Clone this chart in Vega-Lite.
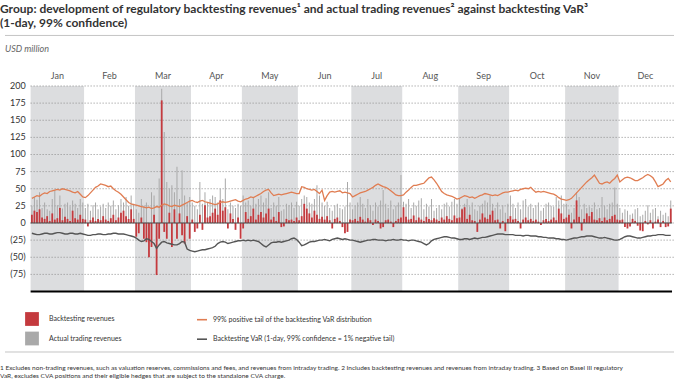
{
  "$schema": "https://vega.github.io/schema/vega-lite/v6.json",
  "padding": {"left": 0, "right": 0, "top": 2, "bottom": 0},
  "background": "white",
  "config": {"font": "Lato", "view": {"stroke": null}},
  "title": {
    "text": ["Group: development of regulatory backtesting revenues¹ and actual trading revenues² against backtesting VaR³", "(1-day, 99% confidence)"],
    "anchor": "start", "fontSize": 12, "fontWeight": "bold", "color": "#333333", "lineHeight": 14, "offset": 5
  },
  "datasets": {
    "one": [{}],
    "grid": [
      {"g": 200, "lab": "200"}, {"g": 175, "lab": "175"}, {"g": 150, "lab": "150"}, {"g": 125, "lab": "125"},
      {"g": 100, "lab": "100"}, {"g": 75, "lab": "75"}, {"g": 50, "lab": "50"}, {"g": 25, "lab": "25"},
      {"g": 0, "lab": "0"}, {"g": -25, "lab": "(25)"}, {"g": -50, "lab": "(50)"}, {"g": -75, "lab": "(75)"}
    ],
    "months": [
      {"m": "Jan", "mid": 10}, {"m": "Feb", "mid": 30.5}, {"m": "Mar", "mid": 51.5}, {"m": "Apr", "mid": 72.5},
      {"m": "May", "mid": 93.5}, {"m": "Jun", "mid": 115}, {"m": "Jul", "mid": 135.5}, {"m": "Aug", "mid": 156.5},
      {"m": "Sep", "mid": 177.5}, {"m": "Oct", "mid": 198.5}, {"m": "Nov", "mid": 220}, {"m": "Dec", "mid": 241}
    ],
    "bands": [
      {"m": "Jan", "s": -0.5, "e": 20.5},
      {"m": "Mar", "s": 40.5, "e": 62.5},
      {"m": "May", "s": 82.5, "e": 104.5},
      {"m": "Jul", "s": 125.5, "e": 145.5},
      {"m": "Sep", "s": 167.5, "e": 187.5},
      {"m": "Nov", "s": 209.5, "e": 230.5}
    ],
    "d": [
      {"t":0,"b":12,"a":25,"p":36,"v":-15},{"t":1,"b":18,"a":38,"p":38,"v":-16},{"t":2,"b":16,"a":34,"p":40,"v":-17},{"t":3,"b":20,"a":45,"p":39,"v":-17},{"t":4,"b":8,"a":22,"p":42,"v":-16},{"t":5,"b":6,"a":30,"p":44,"v":-15},{"t":6,"b":10,"a":20,"p":43,"v":-15},{"t":7,"b":3,"a":18,"p":46,"v":-16},{"t":8,"b":14,"a":35,"p":47,"v":-16},{"t":9,"b":5,"a":48,"p":48,"v":-15},{"t":10,"b":7,"a":26,"p":49,"v":-14},{"t":11,"b":22,"a":40,"p":48,"v":-14},{"t":12,"b":4,"a":21,"p":50,"v":-15},{"t":13,"b":9,"a":28,"p":49,"v":-16},{"t":14,"b":6,"a":30,"p":48,"v":-16},{"t":15,"b":3,"a":24,"p":47,"v":-15},{"t":16,"b":18,"a":33,"p":45,"v":-15},{"t":17,"b":7,"a":28,"p":44,"v":-16},{"t":18,"b":5,"a":22,"p":46,"v":-16},{"t":19,"b":12,"a":35,"p":42,"v":-15},{"t":20,"b":6,"a":30,"p":38,"v":-16},
      {"t":21,"b":5,"a":22,"p":37,"v":-17},{"t":22,"b":-5,"a":28,"p":40,"v":-18},{"t":23,"b":4,"a":18,"p":44,"v":-18},{"t":24,"b":8,"a":26,"p":48,"v":-17},{"t":25,"b":3,"a":30,"p":52,"v":-17},{"t":26,"b":6,"a":20,"p":54,"v":-16},{"t":27,"b":4,"a":24,"p":57,"v":-16},{"t":28,"b":10,"a":28,"p":56,"v":-17},{"t":29,"b":5,"a":22,"p":55,"v":-17},{"t":30,"b":3,"a":30,"p":53,"v":-16},{"t":31,"b":7,"a":25,"p":54,"v":-16},{"t":32,"b":12,"a":33,"p":50,"v":-15},{"t":33,"b":4,"a":20,"p":47,"v":-15},{"t":34,"b":8,"a":26,"p":45,"v":-16},{"t":35,"b":15,"a":35,"p":42,"v":-16},{"t":36,"b":18,"a":30,"p":38,"v":-16},{"t":37,"b":10,"a":38,"p":34,"v":-17},{"t":38,"b":6,"a":25,"p":30,"v":-18},{"t":39,"b":20,"a":40,"p":28,"v":-19},{"t":40,"b":6,"a":28,"p":27,"v":-20},
      {"t":41,"b":-20,"a":20,"p":26,"v":-22},{"t":42,"b":-15,"a":15,"p":25,"v":-25},{"t":43,"b":8,"a":35,"p":24,"v":-27},{"t":44,"b":-23,"a":25,"p":23,"v":-26},{"t":45,"b":-28,"a":30,"p":22,"v":-23},{"t":46,"b":-50,"a":-30,"p":23,"v":-24},{"t":47,"b":-35,"a":45,"p":21,"v":-27},{"t":48,"b":12,"a":40,"p":22,"v":-30},{"t":49,"b":-76,"a":-55,"p":24,"v":-37},{"t":50,"b":-23,"a":65,"p":23,"v":-32},{"t":51,"b":179,"a":196,"p":26,"v":-28},{"t":52,"b":-13,"a":133,"p":28,"v":-27},{"t":53,"b":-23,"a":60,"p":27,"v":-29},{"t":54,"b":15,"a":50,"p":25,"v":-30},{"t":55,"b":-35,"a":55,"p":24,"v":-31},{"t":56,"b":20,"a":45,"p":26,"v":-32},{"t":57,"b":-23,"a":82,"p":25,"v":-32},{"t":58,"b":14,"a":35,"p":24,"v":-30},{"t":59,"b":-18,"a":77,"p":26,"v":-27},{"t":60,"b":-30,"a":40,"p":28,"v":-28},{"t":61,"b":10,"a":30,"p":30,"v":-38},{"t":62,"b":-23,"a":38,"p":32,"v":-40},
      {"t":63,"b":5,"a":30,"p":33,"v":-41},{"t":64,"b":-13,"a":25,"p":31,"v":-42},{"t":65,"b":-8,"a":20,"p":30,"v":-41},{"t":66,"b":12,"a":60,"p":32,"v":-40},{"t":67,"b":-10,"a":28,"p":33,"v":-39},{"t":68,"b":26,"a":45,"p":31,"v":-39},{"t":69,"b":8,"a":30,"p":30,"v":-38},{"t":70,"b":10,"a":35,"p":29,"v":-37},{"t":71,"b":15,"a":40,"p":28,"v":-36},{"t":72,"b":21,"a":38,"p":27,"v":-34},{"t":73,"b":12,"a":30,"p":28,"v":-30},{"t":74,"b":33,"a":50,"p":30,"v":-28},{"t":75,"b":18,"a":35,"p":31,"v":-27},{"t":76,"b":23,"a":65,"p":30,"v":-28},{"t":77,"b":-8,"a":20,"p":31,"v":-30},{"t":78,"b":14,"a":30,"p":32,"v":-29},{"t":79,"b":6,"a":25,"p":33,"v":-28},{"t":80,"b":-10,"a":22,"p":34,"v":-27},{"t":81,"b":8,"a":28,"p":32,"v":-26},{"t":82,"b":-23,"a":25,"p":31,"v":-26},
      {"t":83,"b":-8,"a":40,"p":33,"v":-25},{"t":84,"b":16,"a":30,"p":35,"v":-26},{"t":85,"b":6,"a":33,"p":36,"v":-25},{"t":86,"b":10,"a":25,"p":38,"v":-26},{"t":87,"b":21,"a":38,"p":37,"v":-25},{"t":88,"b":5,"a":28,"p":39,"v":-26},{"t":89,"b":12,"a":35,"p":41,"v":-27},{"t":90,"b":16,"a":40,"p":43,"v":-30},{"t":91,"b":8,"a":30,"p":46,"v":-33},{"t":92,"b":14,"a":36,"p":48,"v":-35},{"t":93,"b":21,"a":45,"p":49,"v":-32},{"t":94,"b":5,"a":22,"p":44,"v":-29},{"t":95,"b":9,"a":30,"p":40,"v":-28},{"t":96,"b":3,"a":25,"p":41,"v":-28},{"t":97,"b":16,"a":38,"p":42,"v":-27},{"t":98,"b":-6,"a":18,"p":41,"v":-28},{"t":99,"b":-5,"a":20,"p":42,"v":-27},{"t":100,"b":6,"a":28,"p":43,"v":-26},{"t":101,"b":4,"a":26,"p":44,"v":-25},{"t":102,"b":5,"a":30,"p":45,"v":-23},{"t":103,"b":3,"a":22,"p":44,"v":-22},{"t":104,"b":8,"a":31,"p":43,"v":-24},
      {"t":105,"b":4,"a":25,"p":43,"v":-28},{"t":106,"b":10,"a":35,"p":53,"v":-33},{"t":107,"b":28,"a":40,"p":52,"v":-32},{"t":108,"b":21,"a":38,"p":50,"v":-30},{"t":109,"b":14,"a":30,"p":49,"v":-28},{"t":110,"b":8,"a":28,"p":48,"v":-27},{"t":111,"b":18,"a":35,"p":49,"v":-27},{"t":112,"b":12,"a":55,"p":46,"v":-26},{"t":113,"b":6,"a":40,"p":43,"v":-25},{"t":114,"b":9,"a":30,"p":48,"v":-25},{"t":115,"b":5,"a":25,"p":33,"v":-24},{"t":116,"b":10,"a":31,"p":40,"v":-25},{"t":117,"b":4,"a":22,"p":45,"v":-26},{"t":118,"b":-8,"a":18,"p":46,"v":-24},{"t":119,"b":6,"a":26,"p":45,"v":-23},{"t":120,"b":8,"a":28,"p":46,"v":-22},{"t":121,"b":3,"a":22,"p":47,"v":-23},{"t":122,"b":-6,"a":20,"p":44,"v":-24},{"t":123,"b":-15,"a":24,"p":45,"v":-23},{"t":124,"b":-13,"a":60,"p":44,"v":-24},{"t":125,"b":5,"a":30,"p":43,"v":-25},
      {"t":126,"b":4,"a":20,"p":38,"v":-25},{"t":127,"b":6,"a":25,"p":40,"v":-26},{"t":128,"b":3,"a":30,"p":42,"v":-27},{"t":129,"b":9,"a":38,"p":44,"v":-28},{"t":130,"b":5,"a":28,"p":45,"v":-27},{"t":131,"b":2,"a":22,"p":46,"v":-26},{"t":132,"b":7,"a":35,"p":48,"v":-25},{"t":133,"b":4,"a":26,"p":50,"v":-25},{"t":134,"b":-3,"a":18,"p":52,"v":-24},{"t":135,"b":5,"a":30,"p":55,"v":-24},{"t":136,"b":3,"a":24,"p":57,"v":-25},{"t":137,"b":-8,"a":33,"p":55,"v":-25},{"t":138,"b":-6,"a":48,"p":53,"v":-25},{"t":139,"b":4,"a":28,"p":52,"v":-26},{"t":140,"b":5,"a":22,"p":50,"v":-25},{"t":141,"b":2,"a":33,"p":47,"v":-25},{"t":142,"b":-6,"a":20,"p":44,"v":-24},{"t":143,"b":3,"a":25,"p":41,"v":-25},{"t":144,"b":6,"a":30,"p":40,"v":-25},{"t":145,"b":8,"a":70,"p":40,"v":-24},
      {"t":146,"b":23,"a":31,"p":41,"v":-25},{"t":147,"b":9,"a":28,"p":45,"v":-25},{"t":148,"b":5,"a":35,"p":48,"v":-26},{"t":149,"b":6,"a":22,"p":52,"v":-25},{"t":150,"b":11,"a":30,"p":55,"v":-25},{"t":151,"b":4,"a":25,"p":55,"v":-26},{"t":152,"b":8,"a":33,"p":56,"v":-27},{"t":153,"b":5,"a":36,"p":57,"v":-28},{"t":154,"b":3,"a":20,"p":58,"v":-30},{"t":155,"b":9,"a":28,"p":62,"v":-32},{"t":156,"b":6,"a":24,"p":66,"v":-30},{"t":157,"b":4,"a":35,"p":67,"v":-26},{"t":158,"b":7,"a":18,"p":63,"v":-24},{"t":159,"b":5,"a":22,"p":58,"v":-23},{"t":160,"b":3,"a":26,"p":52,"v":-22},{"t":161,"b":8,"a":20,"p":46,"v":-21},{"t":162,"b":5,"a":28,"p":43,"v":-20},{"t":163,"b":10,"a":30,"p":41,"v":-20},{"t":164,"b":6,"a":24,"p":40,"v":-21},{"t":165,"b":4,"a":31,"p":39,"v":-22},{"t":166,"b":11,"a":35,"p":37,"v":-22},{"t":167,"b":7,"a":28,"p":35,"v":-23},
      {"t":168,"b":8,"a":35,"p":36,"v":-24},{"t":169,"b":20,"a":22,"p":38,"v":-24},{"t":170,"b":23,"a":28,"p":40,"v":-23},{"t":171,"b":6,"a":35,"p":39,"v":-23},{"t":172,"b":12,"a":24,"p":37,"v":-24},{"t":173,"b":4,"a":30,"p":38,"v":-23},{"t":174,"b":3,"a":20,"p":36,"v":-22},{"t":175,"b":-13,"a":18,"p":38,"v":-23},{"t":176,"b":5,"a":25,"p":40,"v":-22},{"t":177,"b":14,"a":28,"p":41,"v":-21},{"t":178,"b":8,"a":33,"p":43,"v":-21},{"t":179,"b":6,"a":30,"p":42,"v":-20},{"t":180,"b":12,"a":40,"p":41,"v":-19},{"t":181,"b":18,"a":28,"p":40,"v":-18},{"t":182,"b":4,"a":22,"p":41,"v":-17},{"t":183,"b":5,"a":30,"p":40,"v":-16},{"t":184,"b":-8,"a":20,"p":42,"v":-16},{"t":185,"b":3,"a":26,"p":44,"v":-16},{"t":186,"b":-12,"a":15,"p":45,"v":-17},{"t":187,"b":6,"a":28,"p":45,"v":-17},
      {"t":188,"b":10,"a":40,"p":46,"v":-17},{"t":189,"b":5,"a":28,"p":47,"v":-17},{"t":190,"b":6,"a":22,"p":48,"v":-18},{"t":191,"b":3,"a":30,"p":47,"v":-18},{"t":192,"b":-8,"a":20,"p":49,"v":-18},{"t":193,"b":5,"a":33,"p":50,"v":-19},{"t":194,"b":8,"a":35,"p":51,"v":-18},{"t":195,"b":4,"a":24,"p":50,"v":-18},{"t":196,"b":6,"a":28,"p":52,"v":-19},{"t":197,"b":3,"a":22,"p":48,"v":-19},{"t":198,"b":5,"a":26,"p":45,"v":-19},{"t":199,"b":2,"a":30,"p":46,"v":-20},{"t":200,"b":-3,"a":18,"p":45,"v":-20},{"t":201,"b":4,"a":22,"p":46,"v":-21},{"t":202,"b":6,"a":28,"p":45,"v":-21},{"t":203,"b":3,"a":30,"p":44,"v":-22},{"t":204,"b":5,"a":25,"p":43,"v":-22},{"t":205,"b":8,"a":24,"p":42,"v":-22},{"t":206,"b":4,"a":38,"p":40,"v":-23},{"t":207,"b":21,"a":33,"p":37,"v":-23},{"t":208,"b":14,"a":40,"p":35,"v":-24},{"t":209,"b":6,"a":28,"p":34,"v":-24},
      {"t":210,"b":8,"a":28,"p":33,"v":-25},{"t":211,"b":12,"a":20,"p":34,"v":-24},{"t":212,"b":-8,"a":15,"p":36,"v":-23},{"t":213,"b":5,"a":22,"p":40,"v":-22},{"t":214,"b":33,"a":45,"p":44,"v":-22},{"t":215,"b":9,"a":38,"p":48,"v":-21},{"t":216,"b":-11,"a":20,"p":52,"v":-20},{"t":217,"b":6,"a":28,"p":56,"v":-20},{"t":218,"b":14,"a":22,"p":60,"v":-19},{"t":219,"b":10,"a":24,"p":63,"v":-19},{"t":220,"b":16,"a":22,"p":66,"v":-19},{"t":221,"b":5,"a":30,"p":70,"v":-20},{"t":222,"b":4,"a":20,"p":64,"v":-21},{"t":223,"b":7,"a":22,"p":58,"v":-22},{"t":224,"b":3,"a":38,"p":57,"v":-22},{"t":225,"b":8,"a":25,"p":59,"v":-21},{"t":226,"b":4,"a":20,"p":60,"v":-22},{"t":227,"b":6,"a":28,"p":58,"v":-23},{"t":228,"b":10,"a":30,"p":62,"v":-24},{"t":229,"b":12,"a":52,"p":65,"v":-25},{"t":230,"b":5,"a":28,"p":70,"v":-25},
      {"t":231,"b":4,"a":22,"p":60,"v":-24},{"t":232,"b":5,"a":15,"p":63,"v":-22},{"t":233,"b":-6,"a":20,"p":66,"v":-20},{"t":234,"b":-8,"a":18,"p":67,"v":-19},{"t":235,"b":-5,"a":12,"p":66,"v":-19},{"t":236,"b":6,"a":14,"p":64,"v":-20},{"t":237,"b":3,"a":20,"p":62,"v":-21},{"t":238,"b":-4,"a":22,"p":62,"v":-22},{"t":239,"b":-11,"a":10,"p":64,"v":-22},{"t":240,"b":-12,"a":12,"p":66,"v":-21},{"t":241,"b":3,"a":18,"p":69,"v":-20},{"t":242,"b":-2,"a":26,"p":71,"v":-19},{"t":243,"b":4,"a":15,"p":69,"v":-19},{"t":244,"b":-8,"a":20,"p":66,"v":-18},{"t":245,"b":2,"a":22,"p":60,"v":-18},{"t":246,"b":5,"a":10,"p":53,"v":-17},{"t":247,"b":-6,"a":18,"p":55,"v":-17},{"t":248,"b":3,"a":12,"p":57,"v":-17},{"t":249,"b":-6,"a":15,"p":62,"v":-18},{"t":250,"b":-5,"a":10,"p":65,"v":-18},{"t":251,"b":21,"a":33,"p":60,"v":-18}
    ]
  },
  "vconcat": [
    {
      "width": 679,
      "height": 317.5,
      "title": {
        "text": ["1 Excludes non-trading revenues, such as valuation reserves, commissions and fees, and revenues from intraday trading.    2 Includes backtesting revenues and revenues from intraday trading.    3 Based on Basel III regulatory", "VaR, excludes CVA positions and their eligible hedges that are subject to the standalone CVA charge."],
        "orient": "bottom", "anchor": "start", "fontSize": 6.5, "fontWeight": "normal", "color": "#333333", "lineHeight": 8.3, "offset": 12
      },
      "layer": [
        {
          "data": {"name": "bands"},
          "mark": {"type": "rect", "color": "#dcdddf"},
          "encoding": {
            "x": {"field": "s", "type": "quantitative", "scale": {"domain": [-10.565, 252.276], "nice": false, "zero": false}, "axis": null},
            "x2": {"field": "e"},
            "y": {"datum": 200, "type": "quantitative", "scale": {"domain": [-189.05, 274.45], "nice": false, "zero": false}, "axis": null},
            "y2": {"datum": -100}
          }
        },
        {
          "data": {"name": "grid"},
          "mark": {"type": "rule", "color": "#8c8c8c", "strokeWidth": 1, "strokeDash": [1, 2]},
          "encoding": {
            "x": {"datum": -0.5, "type": "quantitative", "axis": null},
            "x2": {"datum": 252.2},
            "y": {"field": "g", "type": "quantitative", "axis": null}
          }
        },
        {
          "data": {"name": "grid"},
          "mark": {"type": "text", "align": "right", "baseline": "middle", "dx": -5, "fontSize": 9, "color": "#333333"},
          "encoding": {
            "x": {"datum": -0.5, "type": "quantitative", "axis": null},
            "y": {"field": "g", "type": "quantitative", "axis": null},
            "text": {"field": "lab"}
          }
        },
        {
          "data": {"name": "months"},
          "mark": {"type": "text", "align": "center", "baseline": "middle", "fontSize": 9, "color": "#555555"},
          "encoding": {
            "x": {"field": "mid", "type": "quantitative", "axis": null},
            "y": {"datum": 214.6, "type": "quantitative", "axis": null},
            "text": {"field": "m"}
          }
        },
        {
          "data": {"name": "one"},
          "mark": {"type": "text", "align": "left", "baseline": "middle", "fontSize": 9, "fontStyle": "italic", "color": "#666666", "text": "USD million"},
          "encoding": {
            "x": {"datum": -10.565, "type": "quantitative", "axis": null},
            "y": {"datum": 254, "type": "quantitative", "axis": null}
          }
        },
        {
          "data": {"name": "d"},
          "mark": {"type": "bar"},
          "encoding": {
            "x": {"field": "t", "type": "quantitative", "axis": null},
            "y": {"field": "a", "type": "quantitative", "axis": null},
            "size": {"value": 1},
            "color": {"datum": "Actual trading revenues", "type": "nominal"}
          }
        },
        {
          "data": {"name": "d"},
          "mark": {"type": "bar"},
          "encoding": {
            "x": {"field": "t", "type": "quantitative", "axis": null},
            "y": {"field": "b", "type": "quantitative", "axis": null},
            "size": {"value": 1.8},
            "color": {"datum": "Backtesting revenues", "type": "nominal",
                      "scale": {"domain": ["Backtesting revenues", "Actual trading revenues"], "range": ["#c43a3e", "#a9a9a9"]},
                      "legend": {"orient": "none", "legendX": 25, "legendY": 277, "title": null, "symbolType": "square", "symbolSize": 190,
                                 "symbolStrokeWidth": 0, "labelFontSize": 7, "labelColor": "#333333", "labelOffset": 10, "rowPadding": 5.5, "padding": 0, "labelLimit": 400}}
          }
        },
        {
          "data": {"name": "one"},
          "mark": {"type": "rule", "color": "#4a4a4a", "strokeWidth": 1},
          "encoding": {
            "x": {"datum": -0.5, "type": "quantitative", "axis": null},
            "x2": {"datum": 251.5},
            "y": {"datum": 0, "type": "quantitative", "axis": null}
          }
        },
        {
          "data": {"name": "d"},
          "mark": {"type": "line", "strokeWidth": 1.3},
          "encoding": {
            "x": {"field": "t", "type": "quantitative", "axis": null},
            "y": {"field": "p", "type": "quantitative", "axis": null},
            "stroke": {"datum": "99% positive tail of the backtesting VaR distribution", "type": "nominal",
                       "scale": {"domain": ["99% positive tail of the backtesting VaR distribution", "Backtesting VaR (1-day, 99% confidence = 1% negative tail)"], "range": ["#e07d52", "#555555"]},
                       "legend": {"orient": "none", "legendX": 196, "legendY": 278.7, "title": null, "symbolType": "stroke", "symbolSize": 100,
                                  "symbolStrokeWidth": 1.6, "labelFontSize": 7, "labelColor": "#333333", "labelOffset": 5, "rowPadding": 9.5, "padding": 0, "labelLimit": 400}}
          }
        },
        {
          "data": {"name": "d"},
          "mark": {"type": "line", "strokeWidth": 1.4},
          "encoding": {
            "x": {"field": "t", "type": "quantitative", "axis": null},
            "y": {"field": "v", "type": "quantitative", "axis": null},
            "stroke": {"datum": "Backtesting VaR (1-day, 99% confidence = 1% negative tail)", "type": "nominal"}
          }
        },
        {
          "data": {"name": "one"},
          "mark": {"type": "rule", "color": "#000000", "strokeWidth": 2},
          "encoding": {
            "x": {"datum": -0.5, "type": "quantitative", "axis": null},
            "x2": {"datum": 251.5},
            "y": {"datum": -100, "type": "quantitative", "axis": null}
          }
        },
        {
          "data": {"name": "one"},
          "mark": {"type": "rule", "color": "#c4c4c4", "strokeWidth": 1},
          "encoding": {
            "x": {"datum": -10.565, "type": "quantitative", "axis": null},
            "x2": {"datum": 252.276},
            "y": {"datum": 273.8, "type": "quantitative", "axis": null}
          }
        },
        {
          "data": {"name": "one"},
          "mark": {"type": "rule", "color": "#c4c4c4", "strokeWidth": 1},
          "encoding": {
            "x": {"datum": -10.565, "type": "quantitative", "axis": null},
            "x2": {"datum": 252.276},
            "y": {"datum": -188.3, "type": "quantitative", "axis": null}
          }
        }
      ]
    }
  ]
}
